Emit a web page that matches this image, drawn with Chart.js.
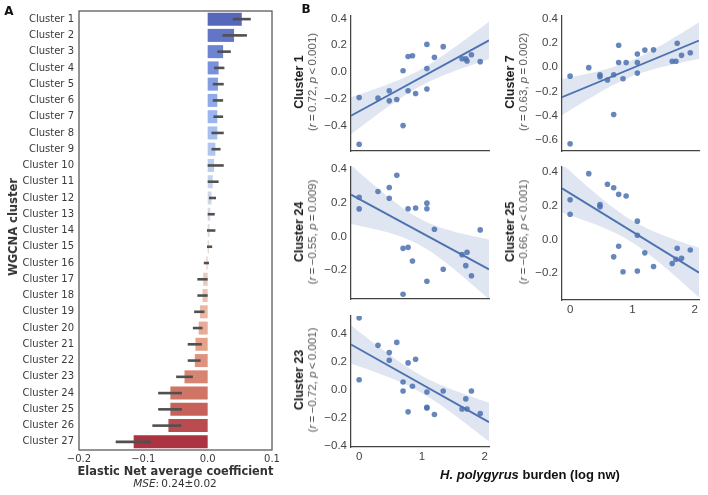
<!DOCTYPE html>
<html>
<head>
<meta charset="utf-8">
<script src="https://cdn.jsdelivr.net/npm/chart.js@4.4.0/dist/chart.umd.min.js"></script>
<style>
  body { margin: 0; background: #fff; }
  #fig { position: relative; width: 708px; height: 495px; overflow: hidden; }
  .box { position: absolute; }
  .lbl { position: absolute; white-space: nowrap; transform: translate(-50%, -50%); text-align: center; }
  .rot { transform: translate(-50%, -50%) rotate(-90deg); }
</style>
</head>
<body>
<div id="fig">
  <div class="box" style="left:0;top:0;width:290px;height:470px;"><canvas id="barChart"></canvas></div>

  <div class="lbl" style="left:9px;top:11px;font:bold 12px 'DejaVu Sans';color:#111;">A</div>
  <div class="lbl" style="left:306px;top:9px;font:bold 12px 'DejaVu Sans';color:#111;">B</div>

  <div class="lbl rot" style="left:12.5px;top:227px;font:bold 11.5px 'DejaVu Sans';color:#333;">WGCNA cluster</div>
  <div class="lbl" style="left:175.5px;top:471px;font:bold 11.4px 'DejaVu Sans';color:#333;">Elastic Net average coefficient</div>
  <div class="lbl" style="left:175px;top:483px;font:10.5px 'DejaVu Sans';color:#333;"><i>MSE</i>:&thinsp;0.24±0.02</div>

  <div class="lbl" style="left:530px;top:474px;font:bold 13px 'Liberation Sans';color:#111;"><i>H. polygyrus</i> burden (log nw)</div>
</div>

<script>
// ---- panel A: elastic net coefficients per cluster ----
const clusters = ['Cluster 1', 'Cluster 2', 'Cluster 3', 'Cluster 4', 'Cluster 5', 'Cluster 6', 'Cluster 7',
    'Cluster 8', 'Cluster 9', 'Cluster 10', 'Cluster 11', 'Cluster 12', 'Cluster 13', 'Cluster 14',
    'Cluster 15', 'Cluster 16', 'Cluster 17', 'Cluster 18', 'Cluster 19', 'Cluster 20', 'Cluster 21',
    'Cluster 22', 'Cluster 23', 'Cluster 24', 'Cluster 25', 'Cluster 26', 'Cluster 27'];
const coefMean = [0.053, 0.041, 0.024, 0.017, 0.016, 0.015, 0.015, 0.015, 0.012, 0.010, 0.008, 0.006, 0.004,
    0.003, 0.002, -0.002, -0.007, -0.008, -0.012, -0.014, -0.019, -0.020, -0.036, -0.058, -0.058, -0.061, -0.115];
const coefLow = [0.039, 0.023, 0.015, 0.010, 0.008, 0.008, 0.009, 0.006, 0.006, 0.000, 0.000, 0.002, 0.000,
    -0.001, -0.001, -0.006, -0.016, -0.016, -0.021, -0.023, -0.031, -0.031, -0.049, -0.077, -0.077, -0.086, -0.143];
const coefHigh = [0.067, 0.061, 0.036, 0.026, 0.025, 0.024, 0.024, 0.025, 0.020, 0.025, 0.017, 0.013, 0.011,
    0.012, 0.007, 0.002, 0.000, 0.000, -0.005, -0.008, -0.009, -0.011, -0.023, -0.040, -0.040, -0.041, -0.088];
const coefTicks = [-0.2, -0.1, 0.0, 0.1];

// ---- panel B: cluster score vs worm burden ----
const burden = [0, 0, 0.30, 0.48, 0.48, 0.60, 0.70, 0.70, 0.78, 0.78, 0.85, 0.90, 1.08, 1.08, 1.08,
    1.20, 1.34, 1.64, 1.70, 1.72, 1.79, 1.93];
const cluster1 = [-0.19, -0.54, -0.195, -0.14, -0.215, -0.205, 0.01, -0.40, 0.117, -0.14, 0.122, -0.16,
    0.207, 0.027, -0.127, 0.11, 0.19, 0.10, 0.10, 0.083, 0.13, 0.078];
const cluster7 = [-0.075, -0.63, -0.005, -0.064, -0.08, -0.107, -0.064, -0.39, 0.037, 0.179, -0.096, 0.037,
    0.107, 0.037, -0.05, 0.139, 0.141, 0.048, 0.048, 0.195, 0.096, 0.117];
const cluster24 = [0.231, 0.162, 0.265, 0.288, 0.225, 0.36, -0.071, -0.342, 0.163, -0.065, -0.146, 0.167,
    0.196, 0.163, -0.265, 0.042, -0.194, -0.108, -0.173, -0.094, -0.233, 0.038];
const cluster25 = [0.235, 0.149, 0.39, 0.206, 0.194, 0.327, -0.104, 0.306, 0.267, -0.041, -0.192, 0.257,
    0.108, 0.024, -0.188, -0.08, -0.161, -0.143, -0.118, -0.053, -0.112, -0.063];
const cluster23 = [0.516, 0.072, 0.319, 0.267, 0.212, 0.34, 0.056, -0.009, 0.193, -0.158, 0.026, 0.219,
    -0.016, -0.126, -0.13, -0.177, -0.009, -0.137, -0.065, -0.137, -0.009, -0.17];
const statLabels = {
    'Cluster 1': '(<i>r</i>&thinsp;=&thinsp;0.72, <i>p</i>&thinsp;&lt;&thinsp;0.001)',
    'Cluster 7': '(<i>r</i>&thinsp;=&thinsp;0.63, <i>p</i>&thinsp;=&thinsp;0.002)',
    'Cluster 24': '(<i>r</i>&thinsp;=&thinsp;\u22120.55, <i>p</i>&thinsp;=&thinsp;0.009)',
    'Cluster 25': '(<i>r</i>&thinsp;=&thinsp;\u22120.66, <i>p</i>&thinsp;&lt;&thinsp;0.001)',
    'Cluster 23': '(<i>r</i>&thinsp;=&thinsp;\u22120.72, <i>p</i>&thinsp;&lt;&thinsp;0.001)'
};

Chart.defaults.animation = false;
Chart.defaults.devicePixelRatio = 1;

function fmt(v, d) {
    return Number(v).toFixed(d).replace('-', '\u2212');
}

// matplotlib coolwarm, roughly, then seaborn's 0.75 desaturation
const cwAnchors = [[59, 76, 192], [98, 130, 234], [141, 176, 254], [184, 208, 249], [221, 221, 221],
    [245, 196, 173], [244, 154, 123], [222, 96, 77], [180, 4, 38]];

function coolwarm(t) {
    let pos = t * (cwAnchors.length - 1);
    let i = Math.min(Math.floor(pos), cwAnchors.length - 2);
    let f = pos - i;
    return cwAnchors[i].map((c, k) => (c + (cwAnchors[i + 1][k] - c) * f) / 255);
}

function desaturate(rgb, prop) {
    let [r, g, b] = rgb;
    let mx = Math.max(r, g, b), mn = Math.min(r, g, b);
    let l = (mx + mn) / 2, h = 0, s = 0;
    if (mx !== mn) {
        let d = mx - mn;
        s = l > 0.5 ? d / (2 - mx - mn) : d / (mx + mn);
        if (mx === r) h = ((g - b) / d + (g < b ? 6 : 0)) / 6;
        else if (mx === g) h = ((b - r) / d + 2) / 6;
        else h = ((r - g) / d + 4) / 6;
    }
    s *= prop;
    let hue = (p, q, t) => {
        if (t < 0) t += 1;
        if (t > 1) t -= 1;
        if (t < 1 / 6) return p + (q - p) * 6 * t;
        if (t < 1 / 2) return q;
        if (t < 2 / 3) return p + (q - p) * (2 / 3 - t) * 6;
        return p;
    };
    let q = l < 0.5 ? l * (1 + s) : l + s - l * s;
    let p = 2 * l - q;
    let out = s === 0 ? [l, l, l] : [hue(p, q, h + 1 / 3), hue(p, q, h), hue(p, q, h - 1 / 3)];
    return 'rgb(' + out.map(c => Math.round(c * 255)).join(',') + ')';
}

// seaborn samples the cmap without the two ends
const barColors = clusters.map((c, i) => desaturate(coolwarm((i + 1) / (clusters.length + 1)), 0.75));

// full box around panel A
const frame = {
    id: 'frame',
    afterDraw(chart) {
        const a = chart.chartArea, ctx = chart.ctx;
        ctx.save();
        ctx.strokeStyle = '#555';
        ctx.lineWidth = 1.25;
        ctx.strokeRect(a.left, a.top, a.right - a.left, a.bottom - a.top);
        ctx.restore();
    }
};

// horizontal error bars drawn through the chart scales
const errorBars = {
    id: 'errorBars',
    afterDatasetsDraw(chart) {
        const xs = chart.scales.x, ys = chart.scales.y, ctx = chart.ctx;
        ctx.save();
        ctx.strokeStyle = '#505050';
        ctx.lineWidth = 2.6;
        coefLow.forEach((lo, i) => {
            let y = ys.getPixelForValue(i);
            ctx.beginPath();
            ctx.moveTo(xs.getPixelForValue(lo), y);
            ctx.lineTo(xs.getPixelForValue(coefHigh[i]), y);
            ctx.stroke();
        });
        ctx.restore();
    }
};

new Chart('barChart', {
    type: 'bar',
    data: {
        labels: clusters,
        datasets: [{
            data: coefMean,
            backgroundColor: barColors,
            barPercentage: 0.8,
            categoryPercentage: 1
        }]
    },
    options: {
        indexAxis: 'y',
        responsive: true,
        maintainAspectRatio: false,
        layout: { padding: { top: 7, right: 18, left: 0, bottom: 0 } },
        plugins: { legend: { display: false }, tooltip: { enabled: false } },
        scales: {
            x: {
                min: coefTicks[0],
                max: coefTicks[coefTicks.length - 1],
                grid: { display: false, drawTicks: false },
                border: { display: false },
                ticks: { stepSize: 0.1, padding: 3, color: '#3a3a3a', font: { family: 'DejaVu Sans', size: 10 },
                    callback: v => fmt(v, 1) },
                afterFit: s => { s.height = 20; }
            },
            y: {
                grid: { display: false, drawTicks: false },
                border: { display: false },
                ticks: { autoSkip: false, padding: 5, color: '#3a3a3a', font: { family: 'DejaVu Sans', size: 10 } },
                afterFit: s => { s.width = 79; }
            }
        }
    },
    plugins: [frame, errorBars]
});

// least squares line + 95% band of the mean
function linFit(xs, ys) {
    const n = xs.length;
    const mx = xs.reduce((a, b) => a + b, 0) / n;
    const my = ys.reduce((a, b) => a + b, 0) / n;
    let sxx = 0, sxy = 0;
    xs.forEach((x, i) => { sxx += (x - mx) * (x - mx); sxy += (x - mx) * (ys[i] - my); });
    const b = sxy / sxx, a = my - b * mx;
    let sse = 0;
    xs.forEach((x, i) => { let r = ys[i] - (a + b * x); sse += r * r; });
    const s = Math.sqrt(sse / (n - 2));
    return { a, b, mx, sxx, s, n };
}

const X_MIN = -0.13, X_MAX = 2.07;
const dotColor = 'rgba(76,114,176,0.85)';

function makeScatter(p) {
    const L = p.box[0], T = p.box[1], R = p.box[2], B = p.box[3];
    const fig = document.getElementById('fig');

    const wrap = document.createElement('div');
    wrap.className = 'box';
    wrap.style.left = (L - 40) + 'px';
    wrap.style.top = (T - 8) + 'px';
    wrap.style.width = (R - L + 48) + 'px';
    wrap.style.height = (B - T + 30) + 'px';
    const cv = document.createElement('canvas');
    wrap.appendChild(cv);
    fig.appendChild(wrap);

    // y title, two lines rotated
    const t = document.createElement('div');
    t.className = 'lbl rot';
    t.style.left = (L - 46) + 'px';
    t.style.top = ((T + B) / 2) + 'px';
    t.style.lineHeight = '16px';
    t.innerHTML = '<div style="font:bold 12.5px \'Liberation Sans\';color:#1a1a1a;">' + p.name + '</div>' +
        '<div style="font:11.5px \'Liberation Sans\';color:#555;">' + statLabels[p.name] + '</div>';
    fig.appendChild(t);

    const fit = linFit(burden, p.ys);
    const tval = 2.086;
    let lower = [], upper = [];
    for (let k = 0; k <= 40; k++) {
        let x = X_MIN + (X_MAX - X_MIN) * k / 40;
        let yhat = fit.a + fit.b * x;
        let se = fit.s * Math.sqrt(1 / fit.n + (x - fit.mx) * (x - fit.mx) / fit.sxx);
        lower.push({ x: x, y: yhat - tval * se });
        upper.push({ x: x, y: yhat + tval * se });
    }

    new Chart(cv, {
        type: 'scatter',
        data: {
            datasets: [{
                type: 'line',
                data: [{ x: X_MIN, y: fit.a + fit.b * X_MIN }, { x: X_MAX, y: fit.a + fit.b * X_MAX }],
                borderColor: '#4c72b0',
                borderWidth: 1.9,
                pointRadius: 0,
                fill: false
            }, {
                data: burden.map((x, i) => ({ x: x, y: p.ys[i] })),
                pointRadius: 2.8,
                pointBackgroundColor: dotColor,
                pointBorderWidth: 0
            }, {
                type: 'line',
                data: lower,
                borderWidth: 0,
                pointRadius: 0,
                fill: false
            }, {
                type: 'line',
                data: upper,
                borderWidth: 0,
                pointRadius: 0,
                backgroundColor: 'rgba(76,114,176,0.18)',
                fill: 2
            }]
        },
        options: {
            responsive: true,
            maintainAspectRatio: false,
            layout: { padding: { top: 8, right: 8, left: 0, bottom: 0 } },
            plugins: { legend: { display: false }, tooltip: { enabled: false } },
            scales: {
                x: {
                    type: 'linear',
                    min: X_MIN,
                    max: X_MAX,
                    grid: { display: false, drawTicks: false },
                    border: { color: '#444', width: 1.25 },
                    ticks: { display: p.xTicks, stepSize: 1, includeBounds: false, padding: 3, color: '#444',
                        font: { family: 'Liberation Sans', size: 11.5 }, callback: v => fmt(v, 0) },
                    afterFit: s => { s.height = 22; }
                },
                y: {
                    min: p.yMin,
                    max: p.yMax,
                    grid: { display: false, drawTicks: false },
                    border: { color: '#444', width: 1.25 },
                    ticks: { stepSize: 0.2, includeBounds: false, padding: 4, color: '#444',
                        font: { family: 'Liberation Sans', size: 11.5 }, callback: v => fmt(v, 1) },
                    afterFit: s => { s.width = 40; }
                }
            }
        }
    });
}

[
    { name: 'Cluster 1', ys: cluster1, yMin: -0.59, yMax: 0.42, xTicks: false, box: [351, 13, 489, 151] },
    { name: 'Cluster 7', ys: cluster7, yMin: -0.69, yMax: 0.42, xTicks: false, box: [562, 13, 699, 151] },
    { name: 'Cluster 24', ys: cluster24, yMin: -0.37, yMax: 0.41, xTicks: false, box: [351, 164, 489, 299] },
    { name: 'Cluster 25', ys: cluster25, yMin: -0.36, yMax: 0.43, xTicks: true, box: [562, 164, 699, 300] },
    { name: 'Cluster 23', ys: cluster23, yMin: -0.41, yMax: 0.53, xTicks: true, box: [351, 313, 489, 447] }
].forEach(makeScatter);
</script>
</body>
</html>
